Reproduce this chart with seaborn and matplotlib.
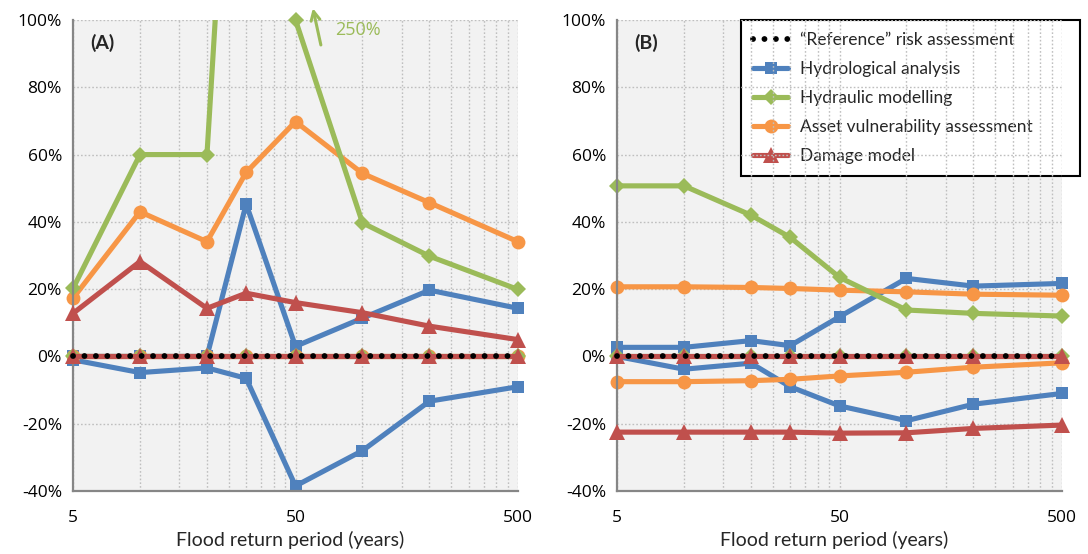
import matplotlib
matplotlib.use("Agg")
import matplotlib.pyplot as plt
import numpy as np
import pandas as pd
import seaborn as sns
from matplotlib.lines import Line2D
from matplotlib.ticker import FixedLocator, FuncFormatter, NullFormatter

# Flood return periods (years)
periods = [5, 10, 20, 30, 50, 100, 200, 500]
reference = [0, 0, 0, 0, 0, 0, 0, 0]

# Panel (A): upper / lower deviation from the reference risk (%)
a_hydrological_upper = [0, 0, 0, 45.3, 3, 11.4, 19.7, 14.3]
a_hydrological_lower = [-1, -4.8, -3.4, -6.5, -38.5, -28, -13.3, -9]
a_hydraulic_upper = [20.2, 60, 60, 250, 100, 39.7, 29.8, 19.9]
a_hydraulic_lower = [0, 0, 0, 0, 0, 0, 0, 0]
a_asset_upper = [17.3, 43, 34.1, 54.7, 69.8, 54.4, 45.7, 34.1]
a_asset_lower = [0, 0, 0, 0, 0, 0, 0, 0]
a_damage_upper = [12.8, 28.2, 14.3, 18.8, 16, 13, 9, 5]
a_damage_lower = [0, 0, 0, 0, 0, 0, 0, 0]

# Panel (B)
b_hydrological_upper = [2.7, 2.7, 4.7, 3.2, 11.8, 23.2, 20.9, 21.7]
b_hydrological_lower = [0, -3.8, -2, -9, -14.7, -19.1, -14.2, -11]
b_hydraulic_upper = [50.7, 50.7, 42, 35.4, 23.5, 13.8, 12.8, 12]
b_hydraulic_lower = [0, 0, 0, 0, 0, 0, 0, 0]
b_asset_upper = [20.7, 20.7, 20.5, 20.2, 19.7, 19.2, 18.5, 18.2]
b_asset_lower = [-7.5, -7.5, -7.2, -6.8, -5.8, -4.7, -3.2, -1.9]
b_damage_upper = [0, 0, 0, 0, 0, 0, 0, 0]
b_damage_lower = [-22.5, -22.5, -22.5, -22.5, -22.8, -22.7, -21.4, -20.4]

labels = ["\u201cReference\u201d risk assessment", "Hydrological analysis",
          "Hydraulic modelling", "Asset vulnerability assessment", "Damage model"]
y_ticks = [-40, -20, 0, 20, 40, 60, 80, 100]
x_ticks = [5, 50, 500]

BLUE, GREEN, ORANGE, RED = "#4f81bd", "#9bbb59", "#f79646", "#c0504d"
GRID = "#bfbfbf"
SPINE = "#868686"

sns.set_theme(style="white", rc={
    "axes.facecolor": "#f2f2f2",
    "figure.facecolor": "white",
})
plt.rcParams["font.family"] = ["Lato", "DejaVu Sans"]
FS = 14
TICK_FS = 12.5
LEG_FS = 12.5

fig = plt.figure(figsize=(10.88, 5.54), dpi=100)
ax_a = fig.add_axes([0.0671, 0.1137, 0.409, 0.8502])
ax_b = fig.add_axes([0.5671, 0.1137, 0.409, 0.8502])

# (label, color, marker, marker size, upper, lower), drawn in this order
panel_a = [
    ("hydro", BLUE, "s", 9, a_hydrological_upper, a_hydrological_lower),
    ("asset", ORANGE, "o", 10, a_asset_upper, a_asset_lower),
    ("hydraulic", GREEN, "D", 8.5, a_hydraulic_upper, a_hydraulic_lower),
    ("damage", RED, "^", 11, a_damage_upper, a_damage_lower),
]
panel_b = [
    ("hydro", BLUE, "s", 9, b_hydrological_upper, b_hydrological_lower),
    ("asset", ORANGE, "o", 10, b_asset_upper, b_asset_lower),
    ("hydraulic", GREEN, "D", 8.5, b_hydraulic_upper, b_hydraulic_lower),
    ("damage", RED, "^", 11, b_damage_upper, b_damage_lower),
]


def draw_panel(ax, series, tag):
    for i, (name, color, marker, ms, upper, lower) in enumerate(series):
        frame = pd.DataFrame({
            "period": periods + periods,
            "value": upper + lower,
            "bound": ["upper"] * len(periods) + ["lower"] * len(periods),
        })
        z = 2 + i * 0.2
        sns.lineplot(data=frame, x="period", y="value", units="bound",
                     estimator=None, sort=False, color=color, lw=3.7,
                     ax=ax, legend=False, zorder=z)
        shown = frame[(frame["value"] >= y_ticks[0]) & (frame["value"] <= y_ticks[-1])]
        for _, grp in shown.groupby("bound"):
            sns.lineplot(data=grp, x="period", y="value", estimator=None,
                         sort=False, color=color, linestyle="none",
                         marker=marker, markersize=ms, markeredgewidth=0,
                         ax=ax, legend=False, zorder=z + 0.1, clip_on=False)
    ref = pd.DataFrame({"period": periods, "value": reference})
    sns.lineplot(data=ref, x="period", y="value", estimator=None, color="black",
                 lw=4.2, linestyle=(0, (0.01, 1.95)), dash_capstyle="round",
                 ax=ax, legend=False, zorder=4, clip_on=False)

    ax.set_xscale("log")
    ax.set_xlim(5, 500)
    ax.set_ylim(-40, 100)
    ax.xaxis.set_major_locator(FixedLocator(x_ticks))
    minors = [5 * k * 10 ** d for d in (0, 1) for k in range(2, 10)]
    ax.xaxis.set_minor_locator(FixedLocator(minors))
    ax.xaxis.set_major_formatter(FuncFormatter(lambda v, p: f"{v:g}"))
    ax.xaxis.set_minor_formatter(NullFormatter())
    ax.yaxis.set_major_locator(FixedLocator(y_ticks))
    ax.yaxis.set_major_formatter(FuncFormatter(lambda v, p: f"{v:.0f}%"))

    ax.set_axisbelow(True)
    ax.grid(True, which="major", axis="both", color=GRID, lw=1.0,
            linestyle=(0, (1.2, 1.5)))
    ax.grid(True, which="minor", axis="x", color=GRID, lw=1.0,
            linestyle=(0, (1.2, 1.5)))
    for side in ("top", "right"):
        ax.spines[side].set_visible(False)
    for side in ("left", "bottom"):
        ax.spines[side].set_color(SPINE)
        ax.spines[side].set_linewidth(1.6)
    ax.tick_params(axis="both", which="both", direction="out", color=SPINE,
                   width=1.2, labelsize=TICK_FS, labelcolor="black",
                   labelfontfamily="Open Sans")
    ax.tick_params(axis="both", which="major", length=4, pad=4)
    ax.tick_params(axis="x", which="minor", length=3)
    ax.tick_params(axis="x", which="major", pad=10)

    ax.set_xlabel("Flood return period (years)", fontsize=FS, labelpad=3)
    ax.xaxis.label.set_x(0.487)
    ax.set_ylabel("")
    ax.text(0.038, 0.951, tag, transform=ax.transAxes, fontsize=FS,
            fontweight="bold", va="center", ha="left")


draw_panel(ax_a, panel_a, "(A)")
draw_panel(ax_b, panel_b, "(B)")

# Off-scale value for hydraulic modelling at the 30-year event
ax_a.annotate("", xy=(0.539, 1.025), xytext=(0.557, 0.947),
              xycoords="axes fraction", textcoords="axes fraction",
              annotation_clip=False,
              arrowprops=dict(arrowstyle="->", color=GREEN, lw=2.2,
                              mutation_scale=16, shrinkA=0, shrinkB=0))
ax_a.text(0.589, 0.979, "250%", transform=ax_a.transAxes, color=GREEN,
          fontsize=13, va="center", ha="left", family="Open Sans")

handles = [
    Line2D([], [], color="black", lw=4.2, linestyle=(0, (0.01, 1.95)),
           dash_capstyle="round"),
    Line2D([], [], color=BLUE, lw=3.7, marker="s", markersize=9, markeredgewidth=0),
    Line2D([], [], color=GREEN, lw=3.7, marker="D", markersize=8.5, markeredgewidth=0),
    Line2D([], [], color=ORANGE, lw=3.7, marker="o", markersize=10, markeredgewidth=0),
    Line2D([], [], color=RED, lw=3.7, marker="^", markersize=11, markeredgewidth=0),
]
leg = ax_b.legend(handles, labels, loc="upper left",
                  bbox_to_anchor=(0.681, 0.0, 0.312, 0.964),
                  bbox_transform=fig.transFigure, mode="expand",
                  fontsize=LEG_FS, frameon=True, fancybox=False,
                  handlelength=2.0, handletextpad=0.7, labelspacing=0.74,
                  borderpad=0.72, borderaxespad=0.0)
leg.get_frame().set_edgecolor("black")
leg.get_frame().set_linewidth(1.5)
leg.get_frame().set_facecolor("white")
leg.get_frame().set_alpha(1.0)
leg.set_zorder(0.4)

fig.savefig("out.png", dpi=100)
